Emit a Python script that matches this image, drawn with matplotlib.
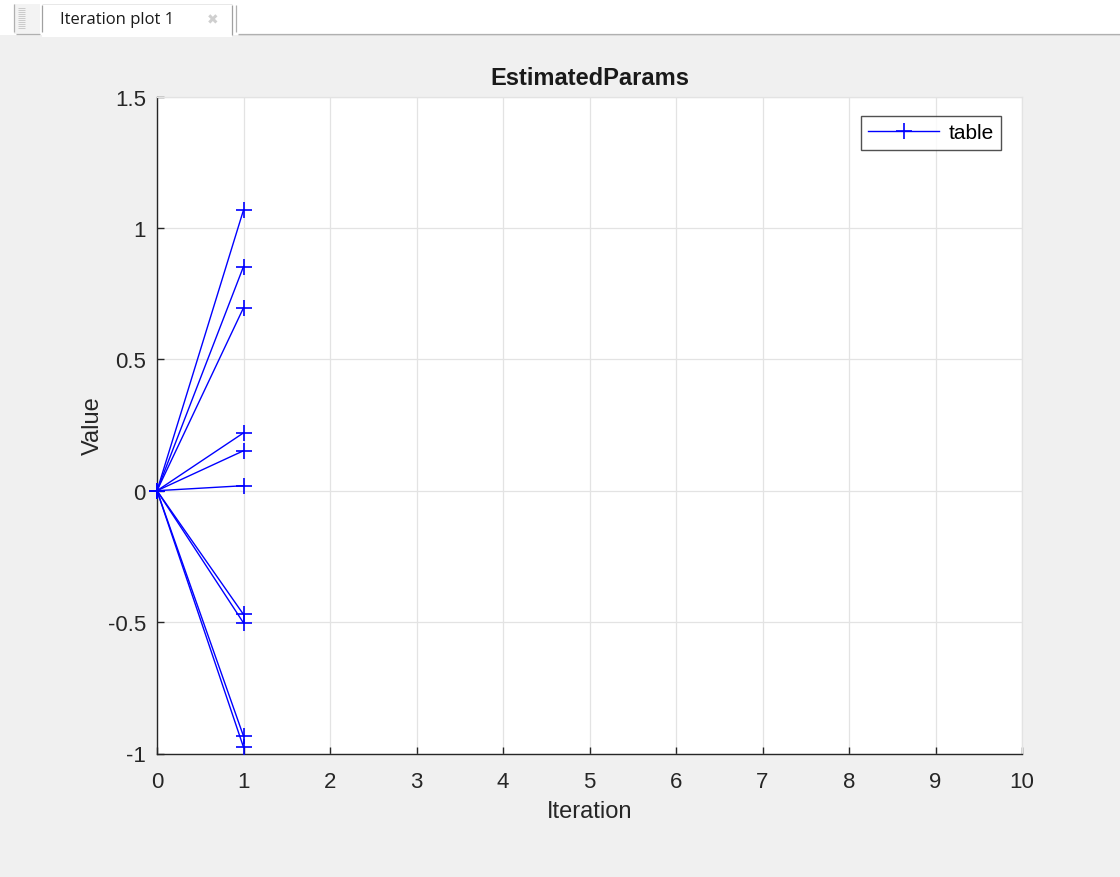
import matplotlib
matplotlib.use("Agg")
import matplotlib.pyplot as plt
from matplotlib.patches import Rectangle
from matplotlib.lines import Line2D

plt.rcParams['font.family'] = ['Liberation Sans', 'DejaVu Sans']

# Data
iterations = [0, 1]
start_values = [0.0] * 10
param_values = [1.068, 0.853, 0.696, 0.220, 0.152, 0.019, -0.471, -0.503, -0.934, -0.976]
x_ticks = list(range(0, 11))
y_ticks = [-1, -0.5, 0, 0.5, 1, 1.5]
y_ticklabels = ['-1', '-0.5', '0', '0.5', '1', '1.5']
title = 'EstimatedParams'
x_label = 'Iteration'
y_label = 'Value'
legend_label = 'table'
tab_label = 'Iteration plot 1'

W, H = 1120, 878
fig = plt.figure(figsize=(W / 100, H / 100), dpi=100, facecolor='#F0F0F0')

def fx(px):
    return px / W

def fy(py):
    return 1 - py / H

def fline(xs, ys, color='#B0B0B0', lw=0.9, z=3):
    fig.add_artist(Line2D([fx(x) for x in xs], [fy(y) for y in ys], transform=fig.transFigure,
                          color=color, lw=lw, zorder=z, solid_capstyle='butt'))

# --- Tab bar decorations ---
fig.patches.append(Rectangle((0, fy(36)), 1, fy(0) - fy(36), transform=fig.transFigure,
                             facecolor='white', edgecolor='none', zorder=0))
# grip area (left)
fig.patches.append(Rectangle((fx(14), fy(35)), fx(26), fy(5) - fy(35), transform=fig.transFigure,
                             facecolor='#F3F3F3', edgecolor='none', zorder=1))
fline([14, 14], [5, 33])
fline([16, 40], [35, 35])
for gy in range(9, 31, 2):
    fline([18, 25], [gy, gy], color='#C4C4C4', lw=0.6)
# right area
fline([236, 236], [6, 33])
fline([238, W], [35, 35])
fline([238, W], [36, 36], color='#D8D8D8', lw=0.6)
# active tab
fig.patches.append(Rectangle((fx(42), fy(38)), fx(190), fy(5) - fy(38), transform=fig.transFigure,
                             facecolor='white', edgecolor='none', zorder=2))
fline([42, 42], [6, 33], color='#A0A0A0')
fline([232, 232], [6, 36], color='#A0A0A0')
fline([42, 232], [5, 5], color='#E4E4E4', lw=0.6)
fig.text(fx(60), fy(20), tab_label, fontsize=12, family=['Open Sans', 'DejaVu Sans'],
         color='#1A1A1A', va='center', ha='left')
fig.text(fx(213), fy(20), '\u2716', fontsize=10, color='#CFCFCF', va='center', ha='center',
         family=['DejaVu Sans'])

# --- Axes ---
left, right = 157, 1022
top, bottom = 97.5, 754.5
ax = fig.add_axes([fx(left), fy(bottom), fx(right - left), fy(top) - fy(bottom)])
ax.set_facecolor('white')

for i, v in enumerate(param_values):
    ax.plot(iterations, [start_values[i], v], color='#0000FF', lw=1.0, marker='+',
            markersize=11, markeredgewidth=1.2, label=legend_label if i == 0 else None,
            clip_on=False, zorder=3)

ax.set_xlim(0, 10)
ax.set_ylim(-1, 1.5)
ax.set_xticks(x_ticks)
ax.set_xticklabels([str(t) for t in x_ticks])
ax.set_yticks(y_ticks)
ax.set_yticklabels(y_ticklabels)

ax.grid(True, color='#E3E3E3', lw=0.9, zorder=0)
ax.set_axisbelow(True)
for s in ['top', 'right']:
    ax.spines[s].set_color('#E3E3E3')
    ax.spines[s].set_linewidth(0.9)
for s in ['left', 'bottom']:
    ax.spines[s].set_color('#262626')
    ax.spines[s].set_linewidth(1.0)

ax.tick_params(axis='both', direction='in', length=5, width=1.0, color='#262626',
               labelsize=16, labelcolor='#262626')
ax.tick_params(axis='x', pad=12.5)
ax.tick_params(axis='y', pad=8)
ax.tick_params(top=False, right=False)

ax.set_title(title, fontsize=17, fontweight='bold', color='#1A1A1A', pad=9)
ax.set_xlabel(x_label, fontsize=17, color='#262626', labelpad=6)
ax.set_ylabel(y_label, fontsize=17, color='#262626', labelpad=3)

leg = ax.legend(loc='upper right',
                bbox_to_anchor=((1001 - left) / (right - left), (bottom - 117) / (bottom - top)),
                fontsize=15, frameon=True, fancybox=False, handlelength=3.4,
                borderpad=0.35, handletextpad=0.45, borderaxespad=0)
leg.get_frame().set_edgecolor('#262626')
leg.get_frame().set_linewidth(1.0)

fig.savefig('out.png', dpi=100, facecolor=fig.get_facecolor())
